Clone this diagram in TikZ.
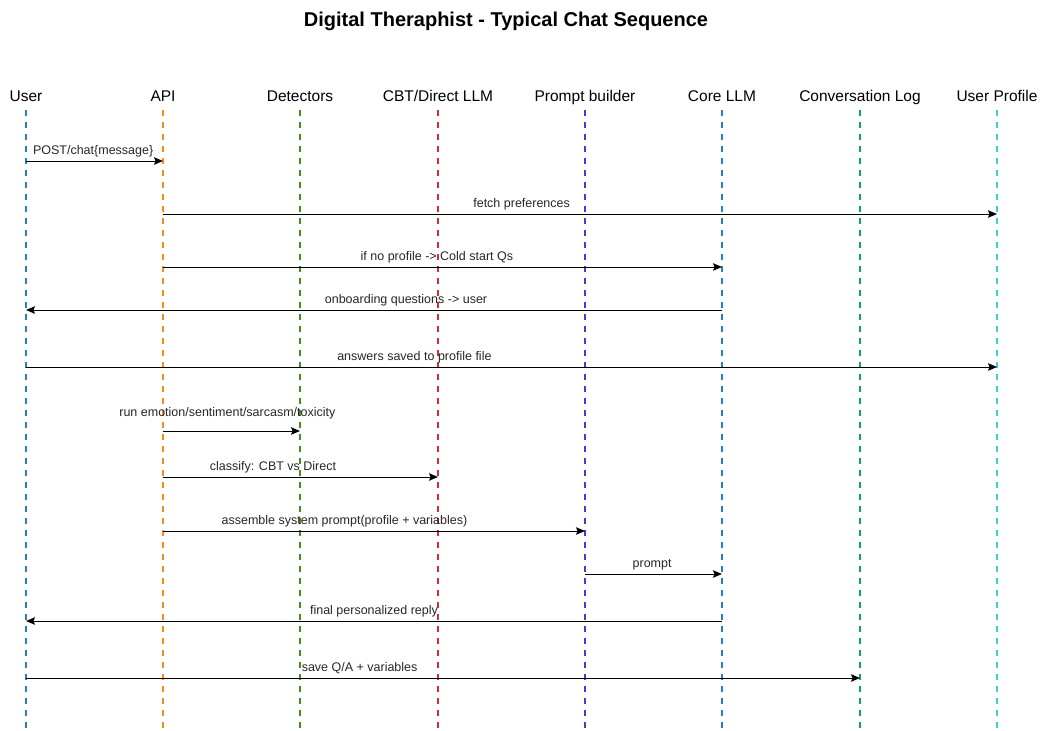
\documentclass[tikz,border=0pt]{standalone}
\usepackage{fontspec}
\setmainfont{Liberation Sans}
\usepackage{xcolor}
\usetikzlibrary{arrows.meta, positioning, calc}

\definecolor{userblue}{HTML}{2680C2}
\definecolor{apiorange}{HTML}{FF8A1C}
\definecolor{detgreen}{HTML}{45901F}
\definecolor{cbtred}{HTML}{D92B33}
\definecolor{pbpurple}{HTML}{5A2FD8}
\definecolor{loggreen}{HTML}{14A85A}
\definecolor{profcyan}{HTML}{2ED6D6}

\begin{document}
\begin{tikzpicture}[
    x=1pt, y=-1pt,
    >={Stealth[length=9pt, width=7.5pt, inset=1.5pt]},
    % participant heads and their dashed lifelines
    head/.style={anchor=base, inner sep=0pt, font=\fontsize{15.5}{18}\selectfont},
    lifeline/.style={line width=2pt, dash pattern=on 5.5pt off 6.5pt},
    % messages between lifelines
    msg/.style={->, line width=1pt, draw=black},
    lbl/.style={anchor=base, inner sep=0pt, yshift=7pt, font=\fontsize{12.5}{14}\selectfont, text=black!85}
]
\useasboundingbox (0,0) rectangle (1042,731);

% -----------------------------------------------------------
% Title
% -----------------------------------------------------------
\node[anchor=base, font=\fontsize{20}{22}\selectfont\bfseries] (title) at (506,26) {Digital Theraphist - Typical Chat Sequence};

% -----------------------------------------------------------
% Participants
% -----------------------------------------------------------
\node[head] (user) at (26,101) {User};
\node[head] (api) at (163,101) {API};
\node[head] (detectors) at (300,101) {Detectors};
\node[head] (cbt) at (438,101) {CBT/Direct LLM};
\node[head] (builder) at (585,101) {Prompt builder};
\node[head] (core) at (722,101) {Core LLM};
\node[head] (convlog) at (860,101) {Conversation Log};
\node[head] (profile) at (997,101) {User Profile};

% Lifelines
\draw[lifeline, draw=userblue] (user |- 0,110) -- (user |- 0,731);
\draw[lifeline, draw=apiorange] (api |- 0,110) -- (api |- 0,731);
\draw[lifeline, draw=detgreen] (detectors |- 0,110) -- (detectors |- 0,731);
\draw[lifeline, draw=cbtred] (cbt |- 0,110) -- (cbt |- 0,731);
\draw[lifeline, draw=pbpurple] (builder |- 0,110) -- (builder |- 0,731);
\draw[lifeline, draw=userblue] (core |- 0,110) -- (core |- 0,731);
\draw[lifeline, draw=loggreen] (convlog |- 0,110) -- (convlog |- 0,731);
\draw[lifeline, draw=profcyan] (profile |- 0,110) -- (profile |- 0,731);

% -----------------------------------------------------------
% Messages
% -----------------------------------------------------------
\draw[msg] (user |- 0,161) -- node[lbl, pos=0.49] {POST/chat\{message\}} (api |- 0,161);
\draw[msg] (api |- 0,214) -- node[lbl, pos=0.43] {fetch preferences} (profile |- 0,214);
\draw[msg] (api |- 0,267) -- node[lbl, pos=0.49] {if no profile -> Cold start Qs} (core |- 0,267);
\draw[msg] (core |- 0,310) -- node[lbl, pos=0.454] {onboarding questions -> user} (user |- 0,310);
\draw[msg] (user |- 0,367) -- node[lbl, pos=0.40] {answers saved to profile file} (profile |- 0,367);
\draw[msg] (api |- 0,431) -- node[lbl, pos=0.47, yshift=8pt] {run emotion/sentiment/sarcasm/toxicity} (detectors |- 0,431);
\draw[msg] (api |- 0,477) -- node[lbl, pos=0.40] {classify: CBT vs Direct} (cbt |- 0,477);
\draw[msg] (api |- 0,531) -- node[lbl, pos=0.43] {assemble system prompt(profile + variables)} (builder |- 0,531);
\draw[msg] (builder |- 0,574) -- node[lbl, pos=0.49] {prompt} (core |- 0,574);
\draw[msg] (core |- 0,621) -- node[lbl, pos=0.50] {final personalized reply} (user |- 0,621);
\draw[msg] (user |- 0,678) -- node[lbl, pos=0.40] {save Q/A + variables} (convlog |- 0,678);

\end{tikzpicture}
\end{document}
